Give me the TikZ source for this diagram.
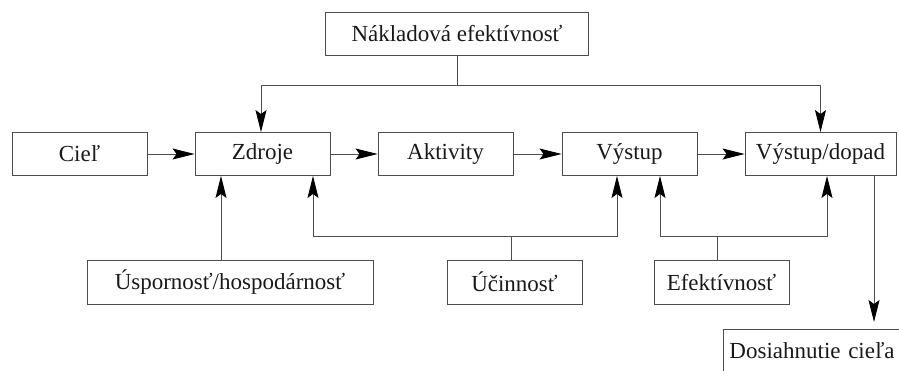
\documentclass[tikz,border=0pt]{standalone}
\usepackage{fontspec}
\setmainfont{Liberation Serif}
\usetikzlibrary{arrows.meta}
\begin{document}
\begin{tikzpicture}[x=1pt,y=-1pt,
  box/.style={draw=black!70,line width=0.9pt,minimum height=43pt,inner sep=0pt,font=\fontsize{23}{27}\selectfont,text=black!90},
  con/.style={draw=black!70,line width=0.9pt},
  arr/.style={con,-{Stealth[length=22pt,width=11pt,inset=4pt,color=black]}}]
\useasboundingbox (0,0) rectangle (899,370);
\node[box,minimum width=263pt] (nak) at (457,33.5) {Nákladová efektívnosť};
\node[box,minimum width=135pt] (ciel) at (79.5,154) {Cieľ};
\node[box,minimum width=135pt] (zdr) at (262.5,154) {Zdroje};
\node[box,minimum width=135pt] (akt) at (445.5,154) {Aktivity};
\node[box,minimum width=135pt] (vys) at (629.5,154) {Výstup};
\node[box,minimum width=151pt] (vd) at (820.5,154) {Výstup/dopad};
\node[box,minimum width=286pt,minimum height=44pt] (usp) at (230,282) {Úspornosť/hospodárnosť};
\node[box,minimum width=135pt,minimum height=44pt] (uci) at (514.5,282) {Účinnosť};
\node[box,minimum width=135pt,minimum height=44pt] (efe) at (721.5,282) {Efektívnosť};
\node[box,minimum width=190pt,text width=186pt,align=left,anchor=north west] (dos) at (723,329) {\hspace*{4pt}Dosiahnutie cieľa};
\coordinate (top) at (457,85);
\coordinate (low) at (0,236);
% top connector
\draw[con] (nak.south) -- (top);
\draw[arr] (top) -| ([xshift=-1.5pt]zdr.north);
\draw[arr] (top) -| (vd.north);
% row arrows
\draw[arr] (ciel) -- (zdr);
\draw[arr] (zdr) -- (akt);
\draw[arr] (akt) -- (vys);
\draw[arr] (vys) -- (vd);
% bottom connectors
\draw[arr] ([xshift=-9pt]usp.north) -- ([xshift=-9pt]usp.north |- zdr.south);
\draw[con] ([xshift=-3.5pt]uci.north) -- ([xshift=-3.5pt]uci.north |- low);
\draw[arr] ([xshift=-3.5pt]uci.north |- low) -| ([xshift=50.5pt]zdr.south);
\draw[arr] ([xshift=-3.5pt]uci.north |- low) -| ([xshift=-12.5pt]vys.south);
\draw[con] ([xshift=-4.5pt]efe.north) -- ([xshift=-4.5pt]efe.north |- low);
\draw[arr] ([xshift=-4.5pt]efe.north |- low) -| ([xshift=30.5pt]vys.south);
\draw[arr] ([xshift=-4.5pt]efe.north |- low) -| ([xshift=6.5pt]vd.south);
\draw[arr,shorten >=7pt] ([xshift=53.5pt]vd.south) -- ([xshift=53.5pt]vd.south |- dos.north);
\end{tikzpicture}
\end{document}
